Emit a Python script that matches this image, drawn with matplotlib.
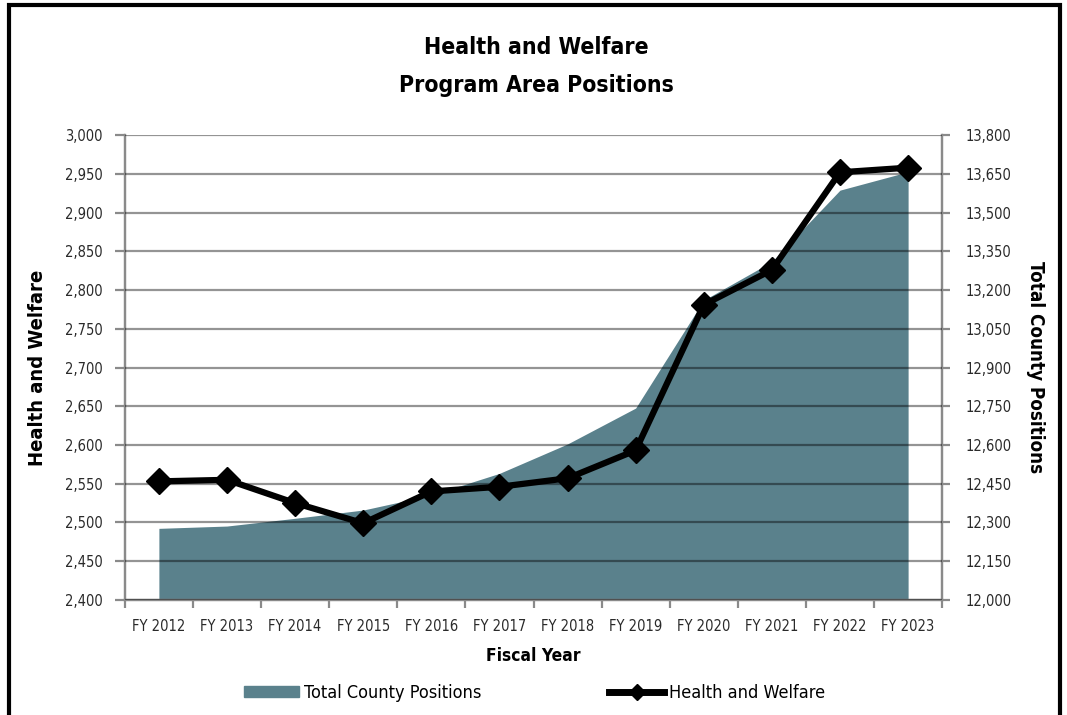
import matplotlib
matplotlib.use("Agg")
import matplotlib.pyplot as plt
from matplotlib.patches import Rectangle
from matplotlib.ticker import FuncFormatter
import numpy as np

plt.rcParams['font.family'] = ['DejaVu Sans']
plt.rcParams['font.stretch'] = 'condensed'

years = ["FY 2012", "FY 2013", "FY 2014", "FY 2015", "FY 2016", "FY 2017",
         "FY 2018", "FY 2019", "FY 2020", "FY 2021", "FY 2022", "FY 2023"]
health_welfare = [2553, 2555, 2525, 2499, 2540, 2546, 2557, 2593, 2781, 2826, 2952, 2958]
total_county = [12277, 12286, 12316, 12348, 12406, 12490, 12604, 12743, 13161, 13310, 13587, 13658]

area_color = "#5a818c"
grid_gray = "#8a8a8a"
label_gray = "#2a2a2a"

fig = plt.figure(figsize=(10.67, 7.15), dpi=100)
ax = fig.add_axes([0.117, 0.161, 0.766, 0.650])
ax2 = ax.twinx()
ax.set_zorder(ax2.get_zorder() + 1)
ax.patch.set_visible(False)

x = np.arange(len(years))

# total county positions: area on the right axis
ax2.fill_between(x, 12000, total_county, color=area_color, linewidth=0, zorder=1)
ax2.set_ylim(12000, 13800)
ax2.set_yticks(np.arange(12000, 13801, 150))

# health and welfare: line on the left axis
ax.plot(x, health_welfare, color="black", linewidth=4.5, marker="D",
        markersize=13, zorder=5)
ax.set_ylim(2400, 3000)
ax.set_yticks(np.arange(2400, 3001, 50))
ax.set_xlim(-0.5, len(years) - 0.5)
ax.yaxis.grid(True, color="black", alpha=0.42, linewidth=1.6, zorder=2)
ax.set_axisbelow(False)

fmt = FuncFormatter(lambda v, p: f"{int(v):,}")
ax.yaxis.set_major_formatter(fmt)
ax2.yaxis.set_major_formatter(fmt)

ax.set_xticks(x)
ax.set_xticklabels(years)
ax.set_xticks(np.arange(-0.5, len(years), 1), minor=True)
ax.tick_params(axis="x", which="major", length=0, labelsize=10.5, pad=14,
               labelcolor=label_gray)
ax.tick_params(axis="x", which="minor", length=6, width=1.6, color=grid_gray)
ax.tick_params(axis="y", length=7, width=1.6, color=grid_gray, labelsize=10.5,
               pad=9, labelcolor=label_gray)
ax2.tick_params(axis="y", length=6, width=1.6, color=grid_gray, labelsize=10.5,
                pad=11, labelcolor=label_gray)

for a in (ax, ax2):
    a.spines["top"].set_visible(False)
    for side in ("left", "right", "bottom"):
        a.spines[side].set_color(grid_gray)
        a.spines[side].set_linewidth(1.6)

ax.set_ylabel("Health and Welfare", fontsize=14.5, fontweight="bold", labelpad=13)
ax2.set_ylabel("Total County Positions", fontsize=13.5, fontweight="bold",
               rotation=270, labelpad=24)
ax.set_xlabel("Fiscal Year", fontsize=12.5, fontweight="bold", labelpad=9)

fig.text(0.503, 0.934, "Health and Welfare", ha="center", va="center",
         fontsize=16.5, fontweight="bold")
fig.text(0.503, 0.881, "Program Area Positions", ha="center", va="center",
         fontsize=16.5, fontweight="bold")

area_handle = Rectangle((0, 0), 1, 1, color=area_color)
line_handle = plt.Line2D([], [], color="black", linewidth=5, marker="D", markersize=8)
fig.legend([area_handle, line_handle], ["Total County Positions", "Health and Welfare"],
           loc="center", bbox_to_anchor=(0.501, 0.031), ncol=2, frameon=False,
           fontsize=13, columnspacing=7.1, handlelength=3.05, handletextpad=0.28,
           handleheight=0.55)

# outer border
fig.patches.append(Rectangle((0.008, -0.01), 0.985, 1.003, transform=fig.transFigure,
                             fill=False, edgecolor="black", linewidth=3))

fig.savefig("out.png", dpi=100)
